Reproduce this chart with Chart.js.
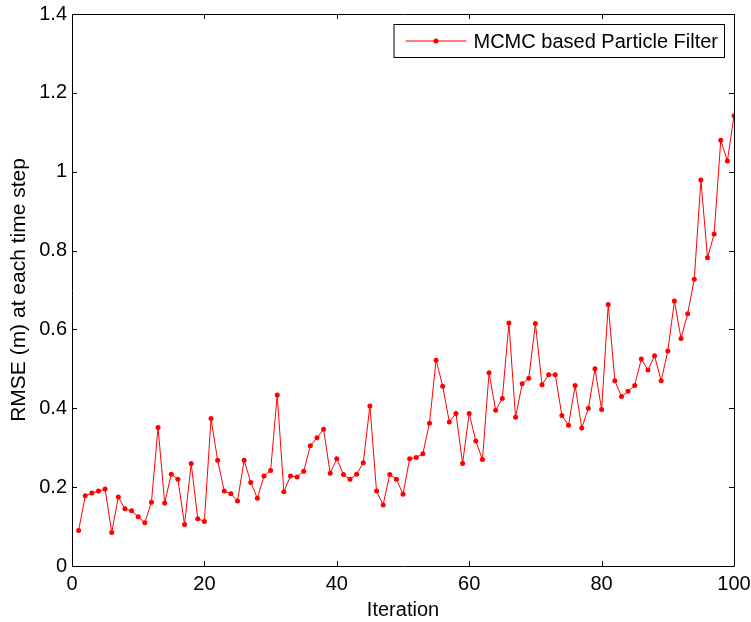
<!DOCTYPE html>
<html>
<head>
<meta charset="utf-8">
<script src="https://cdn.jsdelivr.net/npm/chart.js@4/dist/chart.umd.min.js"></script>
<style>
html,body{margin:0;padding:0;background:#fff;}
#wrap{width:751px;height:622px;position:relative;}
</style>
</head>
<body>
<div id="wrap"><canvas id="c" width="751" height="622"></canvas></div>
<script>
const seriesLabel = "MCMC based Particle Filter";
const xTitle = "Iteration";
const yTitle = "RMSE (m) at each time step";
const iterations = [];
for (let i = 1; i <= 100; i++) iterations.push(i);
const rmse = [
  0.090, 0.178, 0.185, 0.190, 0.195, 0.085, 0.175, 0.145, 0.140, 0.125,
  0.110, 0.162, 0.351, 0.160, 0.233, 0.220, 0.105, 0.260, 0.120, 0.113,
  0.374, 0.268, 0.190, 0.183, 0.165, 0.268, 0.212, 0.172, 0.228, 0.242,
  0.434, 0.188, 0.228, 0.226, 0.240, 0.305, 0.325, 0.347, 0.235, 0.272,
  0.232, 0.220, 0.233, 0.262, 0.406, 0.190, 0.155, 0.232, 0.220, 0.182,
  0.272, 0.275, 0.285, 0.362, 0.522, 0.456, 0.365, 0.387, 0.260, 0.387,
  0.317, 0.270, 0.490, 0.395, 0.425, 0.616, 0.377, 0.462, 0.476, 0.615,
  0.460, 0.485, 0.485, 0.382, 0.357, 0.458, 0.350, 0.400, 0.500, 0.397,
  0.663, 0.470, 0.430, 0.443, 0.458, 0.525, 0.497, 0.533, 0.470, 0.545,
  0.672, 0.577, 0.640, 0.727, 0.979, 0.782, 0.842, 1.080, 1.027, 1.142
];
const xTickValues = [0, 20, 40, 60, 80, 100];
const yTickValues = [0, 0.2, 0.4, 0.6, 0.8, 1, 1.2, 1.4];

const FONT = '"Liberation Sans", Arial, Helvetica, sans-serif';

const frame = {
  id: 'frame',
  afterDatasetsDraw(chart) {
    const ctx = chart.ctx;
    const a = chart.chartArea;
    const xs = chart.scales.x, ys = chart.scales.y;
    ctx.save();
    ctx.strokeStyle = '#000';
    ctx.lineWidth = 1;
    ctx.beginPath();
    ctx.rect(Math.round(a.left) + 0.5, Math.round(a.top) + 0.5,
             Math.round(a.right - a.left), Math.round(a.bottom - a.top));
    ctx.stroke();
    const tl = 5;
    ctx.beginPath();
    xs.ticks.forEach(t => {
      const p = Math.round(xs.getPixelForValue(t.value)) + 0.5;
      ctx.moveTo(p, a.bottom); ctx.lineTo(p, a.bottom - tl);
      ctx.moveTo(p, a.top); ctx.lineTo(p, a.top + tl);
    });
    ys.ticks.forEach(t => {
      const p = Math.round(ys.getPixelForValue(t.value)) + 0.5;
      ctx.moveTo(a.left, p); ctx.lineTo(a.left + tl, p);
      ctx.moveTo(a.right, p); ctx.lineTo(a.right - tl, p);
    });
    ctx.stroke();

    // legend
    const ds = chart.data.datasets[0];
    ctx.font = '20px ' + FONT;
    const tw = ctx.measureText(ds.label).width;
    const h = 33;
    const w = 12 + 61 + 7 + tw + 6;
    const right = Math.round(a.right) - 10;
    const top = Math.round(a.top) + 10;
    const left = right - w;
    ctx.fillStyle = '#fff';
    ctx.fillRect(left, top, w, h);
    ctx.strokeStyle = '#000';
    ctx.strokeRect(left + 0.5, top + 0.5, w, h);
    const cy = top + h / 2 + 0.5;
    ctx.strokeStyle = ds.borderColor;
    ctx.beginPath();
    ctx.moveTo(left + 12, cy); ctx.lineTo(left + 73, cy);
    ctx.stroke();
    ctx.fillStyle = ds.pointBackgroundColor;
    ctx.beginPath();
    ctx.arc(left + 42.5, cy, 2.5, 0, Math.PI * 2);
    ctx.fill();
    ctx.fillStyle = '#000';
    ctx.textBaseline = 'middle';
    ctx.textAlign = 'left';
    ctx.fillText(ds.label, left + 80, cy + 1);
    ctx.restore();
  }
};

new Chart(document.getElementById('c'), {
  type: 'line',
  data: {
    datasets: [{
      label: seriesLabel,
      data: iterations.map((x, i) => ({x: x, y: rmse[i]})),
      borderColor: '#ff0000',
      backgroundColor: '#ff0000',
      pointBackgroundColor: '#ff0000',
      borderWidth: 1,
      pointRadius: 2.5,
      pointBorderWidth: 0,
      tension: 0,
      fill: false
    }]
  },
  options: {
    responsive: false,
    animation: false,
    layout: { padding: { top: 14, right: 17, left: 0, bottom: 0 }, autoPadding: false },
    plugins: { legend: { display: false }, tooltip: { enabled: false } },
    scales: {
      x: {
        type: 'linear', min: 0, max: 100,
        afterBuildTicks(s) { s.ticks = xTickValues.map(v => ({value: v})); },
        afterFit(s) { s.height = 56; s.paddingLeft = 0; s.paddingRight = 0; },
        grid: { display: false, drawTicks: false, tickLength: 0 },
        border: { display: false },
        ticks: { color: '#000', font: { family: FONT, size: 20 }, padding: 6, maxRotation: 0,
                 callback: v => String(v) },
        title: { display: true, text: xTitle, color: '#000', font: { family: FONT, size: 20 }, padding: { top: 0, bottom: 0 } }
      },
      y: {
        type: 'linear', min: 0, max: 1.4,
        afterBuildTicks(s) { s.ticks = yTickValues.map(v => ({value: v})); },
        afterFit(s) { s.width = 72; s.paddingTop = 0; s.paddingBottom = 0; },
        grid: { display: false, drawTicks: false, tickLength: 0 },
        border: { display: false },
        ticks: { color: '#000', font: { family: FONT, size: 20 }, padding: 5,
                 callback: v => String(+(+v).toFixed(1)) },
        title: { display: true, text: yTitle, color: '#000', font: { family: FONT, size: 21 }, padding: { top: 7, bottom: 0 } }
      }
    }
  },
  plugins: [frame]
});
</script>
</body>
</html>
